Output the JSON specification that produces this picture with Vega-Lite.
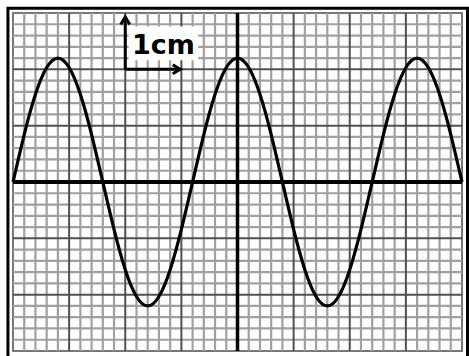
{
  "$schema": "https://vega.github.io/schema/vega-lite/v6.json",
  "width": 449,
  "height": 338,
  "autosize": {"type": "none"},
  "padding": {"left": 13, "top": 13, "right": 7, "bottom": 5},
  "background": "white",
  "config": {"view": {"stroke": "#777777", "strokeWidth": 2}},
  "datasets": {
    "minorX": [{"u":1},{"u":2},{"u":3},{"u":4},{"u":6},{"u":7},{"u":8},{"u":9},{"u":11},{"u":12},{"u":13},{"u":14},{"u":16},{"u":17},{"u":18},{"u":19},{"u":21},{"u":22},{"u":23},{"u":24},{"u":26},{"u":27},{"u":28},{"u":29},{"u":31},{"u":32},{"u":33},{"u":34},{"u":36},{"u":37},{"u":38},{"u":39}],
    "majorX": [{"u":5},{"u":10},{"u":15},{"u":25},{"u":30},{"u":35}],
    "minorY": [{"v":-14},{"v":-13},{"v":-12},{"v":-11},{"v":-9},{"v":-8},{"v":-7},{"v":-6},{"v":-4},{"v":-3},{"v":-2},{"v":-1},{"v":1},{"v":2},{"v":3},{"v":4},{"v":6},{"v":7},{"v":8},{"v":9},{"v":11},{"v":12},{"v":13},{"v":14}],
    "majorY": [{"v":-10},{"v":-5},{"v":5},{"v":10}],
    "wave": [
      {"u": 0, "v": 0}, {"u": 1, "v": 4.21}, {"u": 2, "v": 7.78}, {"u": 3, "v": 10.16}, {"u": 4, "v": 11},
      {"u": 5, "v": 10.16}, {"u": 6, "v": 7.78}, {"u": 7, "v": 4.21}, {"u": 8, "v": 0},
      {"u": 9, "v": -4.21}, {"u": 10, "v": -7.78}, {"u": 11, "v": -10.16}, {"u": 12, "v": -11},
      {"u": 13, "v": -10.16}, {"u": 14, "v": -7.78}, {"u": 15, "v": -4.21}, {"u": 16, "v": 0},
      {"u": 17, "v": 4.21}, {"u": 18, "v": 7.78}, {"u": 19, "v": 10.16}, {"u": 20, "v": 11},
      {"u": 21, "v": 10.16}, {"u": 22, "v": 7.78}, {"u": 23, "v": 4.21}, {"u": 24, "v": 0},
      {"u": 25, "v": -4.21}, {"u": 26, "v": -7.78}, {"u": 27, "v": -10.16}, {"u": 28, "v": -11},
      {"u": 29, "v": -10.16}, {"u": 30, "v": -7.78}, {"u": 31, "v": -4.21}, {"u": 32, "v": 0},
      {"u": 33, "v": 4.21}, {"u": 34, "v": 7.78}, {"u": 35, "v": 10.16}, {"u": 36, "v": 11},
      {"u": 37, "v": 10.16}, {"u": 38, "v": 7.78}, {"u": 39, "v": 4.21}, {"u": 40, "v": 0}
    ],
    "one": [{}]
  },
  "layer": [
    {
      "data": {"name": "minorX"},
      "mark": {"type": "rule", "color": "#a0a0a0", "strokeWidth": 2.2},
      "encoding": {
        "x": {"field": "u", "type": "quantitative", "scale": {"domain": [0, 40], "nice": false, "zero": false}, "axis": null}
      }
    },
    {
      "data": {"name": "minorY"},
      "mark": {"type": "rule", "color": "#a0a0a0", "strokeWidth": 2.2},
      "encoding": {
        "y": {"field": "v", "type": "quantitative", "scale": {"domain": [-15, 15], "nice": false, "zero": false}, "axis": null}
      }
    },
    {
      "data": {"name": "majorX"},
      "mark": {"type": "rule", "color": "#505050", "strokeWidth": 2},
      "encoding": {
        "x": {"field": "u", "type": "quantitative", "scale": {"domain": [0, 40], "nice": false, "zero": false}, "axis": null}
      }
    },
    {
      "data": {"name": "majorY"},
      "mark": {"type": "rule", "color": "#505050", "strokeWidth": 2},
      "encoding": {
        "y": {"field": "v", "type": "quantitative", "scale": {"domain": [-15, 15], "nice": false, "zero": false}, "axis": null}
      }
    },
    {
      "data": {"name": "one"},
      "mark": {"type": "rect", "fill": "white"},
      "encoding": {
        "x": {"datum": 10.3, "type": "quantitative", "scale": {"domain": [0, 40], "nice": false, "zero": false}, "axis": null},
        "x2": {"datum": 16.5},
        "y": {"datum": 10.8, "type": "quantitative", "scale": {"domain": [-15, 15], "nice": false, "zero": false}, "axis": null},
        "y2": {"datum": 13.8}
      }
    },
    {
      "data": {"name": "one"},
      "mark": {"type": "rule", "color": "black", "strokeWidth": 3.5},
      "encoding": {
        "x": {"datum": 20, "type": "quantitative", "scale": {"domain": [0, 40], "nice": false, "zero": false}, "axis": null}
      }
    },
    {
      "data": {"name": "one"},
      "mark": {"type": "rule", "color": "black", "strokeWidth": 4},
      "encoding": {
        "y": {"datum": 0, "type": "quantitative", "scale": {"domain": [-15, 15], "nice": false, "zero": false}, "axis": null}
      }
    },
    {
      "data": {"name": "wave"},
      "mark": {"type": "line", "color": "black", "strokeWidth": 3.2, "interpolate": "natural"},
      "encoding": {
        "x": {"field": "u", "type": "quantitative", "scale": {"domain": [0, 40], "nice": false, "zero": false}, "axis": null},
        "y": {"field": "v", "type": "quantitative", "scale": {"domain": [-15, 15], "nice": false, "zero": false}, "axis": null}
      }
    },
    {
      "data": {"name": "one"},
      "mark": {"type": "rule", "color": "black", "strokeWidth": 3},
      "encoding": {
        "x": {"datum": 10, "type": "quantitative", "scale": {"domain": [0, 40], "nice": false, "zero": false}, "axis": null},
        "y": {"datum": 10, "type": "quantitative", "scale": {"domain": [-15, 15], "nice": false, "zero": false}, "axis": null},
        "y2": {"datum": 14.65}
      }
    },
    {
      "data": {"name": "one"},
      "mark": {"type": "rule", "color": "black", "strokeWidth": 3},
      "encoding": {
        "x": {"datum": 10, "type": "quantitative", "scale": {"domain": [0, 40], "nice": false, "zero": false}, "axis": null},
        "x2": {"datum": 14.9},
        "y": {"datum": 10, "type": "quantitative", "scale": {"domain": [-15, 15], "nice": false, "zero": false}, "axis": null}
      }
    },
    {
      "data": {"name": "one"},
      "mark": {"type": "point", "shape": "M-0.6,1L0,0L0.6,1", "size": 225, "filled": false, "stroke": "black", "strokeWidth": 3, "opacity": 1},
      "encoding": {
        "x": {"datum": 10, "type": "quantitative", "scale": {"domain": [0, 40], "nice": false, "zero": false}, "axis": null},
        "y": {"datum": 14.65, "type": "quantitative", "scale": {"domain": [-15, 15], "nice": false, "zero": false}, "axis": null}
      }
    },
    {
      "data": {"name": "one"},
      "mark": {"type": "point", "shape": "M-1,-0.6L0,0L-1,0.6", "size": 225, "filled": false, "stroke": "black", "strokeWidth": 3, "opacity": 1},
      "encoding": {
        "x": {"datum": 14.9, "type": "quantitative", "scale": {"domain": [0, 40], "nice": false, "zero": false}, "axis": null},
        "y": {"datum": 10, "type": "quantitative", "scale": {"domain": [-15, 15], "nice": false, "zero": false}, "axis": null}
      }
    },
    {
      "data": {"name": "one"},
      "mark": {"type": "text", "text": "1cm", "font": "DejaVu Sans", "fontWeight": "bold", "fontSize": 27, "align": "center", "baseline": "alphabetic", "color": "black"},
      "encoding": {
        "x": {"datum": 13.4, "type": "quantitative", "scale": {"domain": [0, 40], "nice": false, "zero": false}, "axis": null},
        "y": {"datum": 11.4, "type": "quantitative", "scale": {"domain": [-15, 15], "nice": false, "zero": false}, "axis": null}
      }
    },
    {
      "data": {"name": "one"},
      "mark": {"type": "rect", "fill": null, "fillOpacity": 0, "stroke": "black", "strokeWidth": 3},
      "encoding": {
        "x": {"datum": -0.45, "type": "quantitative", "scale": {"domain": [0, 40], "nice": false, "zero": false}, "axis": null},
        "x2": {"datum": 40.49},
        "y": {"datum": -15.62, "type": "quantitative", "scale": {"domain": [-15, 15], "nice": false, "zero": false}, "axis": null},
        "y2": {"datum": 15.42}
      }
    }
  ]
}
